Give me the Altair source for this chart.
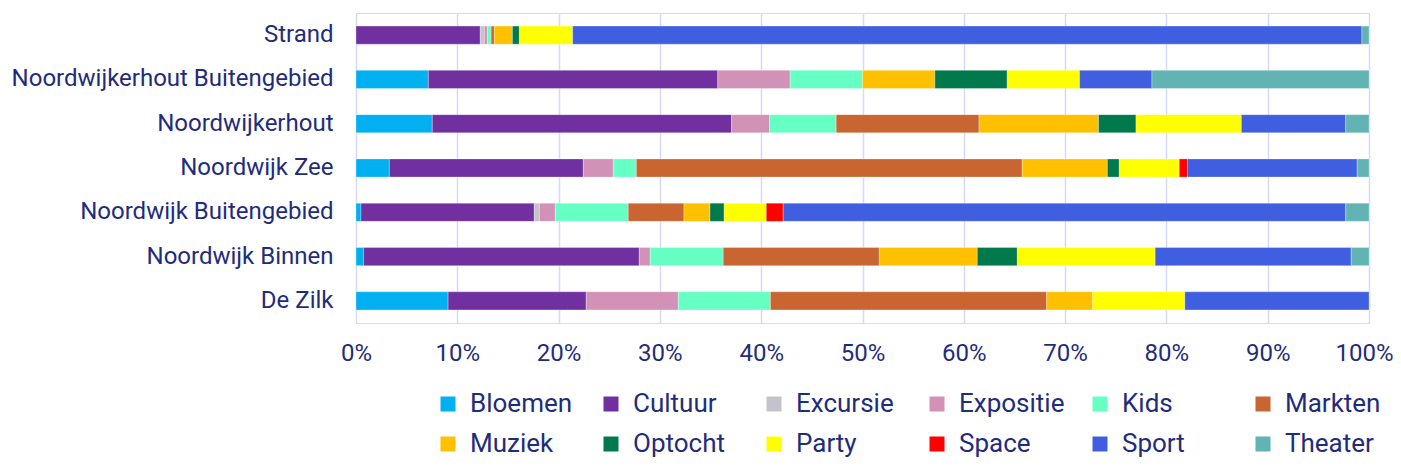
import altair as alt
import pandas as pd

categories = ["Strand", "Noordwijkerhout Buitengebied", "Noordwijkerhout", "Noordwijk Zee",
              "Noordwijk Buitengebied", "Noordwijk Binnen", "De Zilk"]
series = ["Bloemen", "Cultuur", "Excursie", "Expositie", "Kids", "Markten",
          "Muziek", "Optocht", "Party", "Space", "Sport", "Theater"]
colors = ["#00B0F0", "#7030A0", "#C4C2CA", "#D291B6", "#66FFC4", "#C96530",
          "#FFC000", "#007A4C", "#FFFF00", "#FF0000", "#405EE0", "#62B3B3"]

strand = [0, 12.27, 0.4, 0.3, 0.37, 0.32, 1.78, 0.69, 5.26, 0, 77.92, 0.7]
nwh_buiten = [1, 4, 0, 1, 1, 0, 1, 1, 1, 0, 1, 3]
nwh = [7.53, 29.55, 0, 3.75, 6.57, 14.1, 11.8, 3.7, 10.4, 0, 10.3, 2.3]
nw_zee = [3.29, 19.15, 0, 2.96, 2.27, 38.1, 8.4, 1.18, 5.92, 0.82, 16.75, 1.16]
nw_buiten = [0.49, 17.1, 0.5, 1.57, 7.2, 5.5, 2.57, 1.4, 4.15, 1.67, 55.5, 2.3]
nw_binnen = [0.75, 27.2, 0, 1.08, 7.2, 15.4, 9.67, 3.95, 13.6, 0, 19.35, 1.75]
de_zilk = [2, 3, 0, 2, 2, 6, 1, 0, 2, 0, 4, 0]

values = [strand, nwh_buiten, nwh, nw_zee, nw_buiten, nw_binnen, de_zilk]

rows = []
for cat, vals in zip(categories, values):
    for i, (s, v) in enumerate(zip(series, vals)):
        if v > 0:
            rows.append({"Gebied": cat, "Type": s, "Waarde": v, "idx": i})
df = pd.DataFrame(rows)

text_color = "#1F2C7C"

chart = alt.Chart(df).mark_bar(stroke="white", strokeWidth=0.6, strokeOpacity=0.5).encode(
    x=alt.X("Waarde:Q", stack="normalize",
            scale=alt.Scale(domain=[0, 1], nice=False),
            axis=alt.Axis(format="%", values=[i / 10 for i in range(11)], title=None,
                          domain=False, ticks=False, labelFontSize=24, labelPadding=18,
                          labelColor=text_color, labelFont="Roboto",
                          labelOffset={"condition": {"test": "datum.value >= 0.999", "value": -5},
                                       "value": 0},
                          grid=True, gridColor="#D6DAF5", gridWidth=1.5, labelFlush=False)),
    y=alt.Y("Gebied:N", sort=categories, title=None,
            scale=alt.Scale(paddingInner=0.59, paddingOuter=0.295),
            axis=alt.Axis(domain=False, ticks=False, labelFontSize=24, labelPadding=23,
                          labelColor=text_color, labelFont="Roboto", labelLimit=600)),
    color=alt.Color("Type:N", scale=alt.Scale(domain=series, range=colors),
                    legend=alt.Legend(title=None, orient="none", direction="horizontal",
                                      columns=6, legendX=79, legendY=378,
                                      symbolType="square", symbolSize=225,
                                      symbolStrokeWidth=0, labelFontSize=26,
                                      labelFont="Roboto", labelColor=text_color,
                                      labelOffset=9, columnPadding=22, rowPadding=14,
                                      gridAlign="all", padding=0, labelLimit=300)),
    order=alt.Order("idx:Q", sort="ascending"),
).properties(
    width=1013, height=310,
    autosize=alt.AutoSizeParams(type="none"),
    padding={"left": 348, "top": 5, "right": 24, "bottom": 136},
).configure_view(stroke=None).configure(background="white")

chart.save("out.html", embed_options={"renderer": "svg", "actions": False})
